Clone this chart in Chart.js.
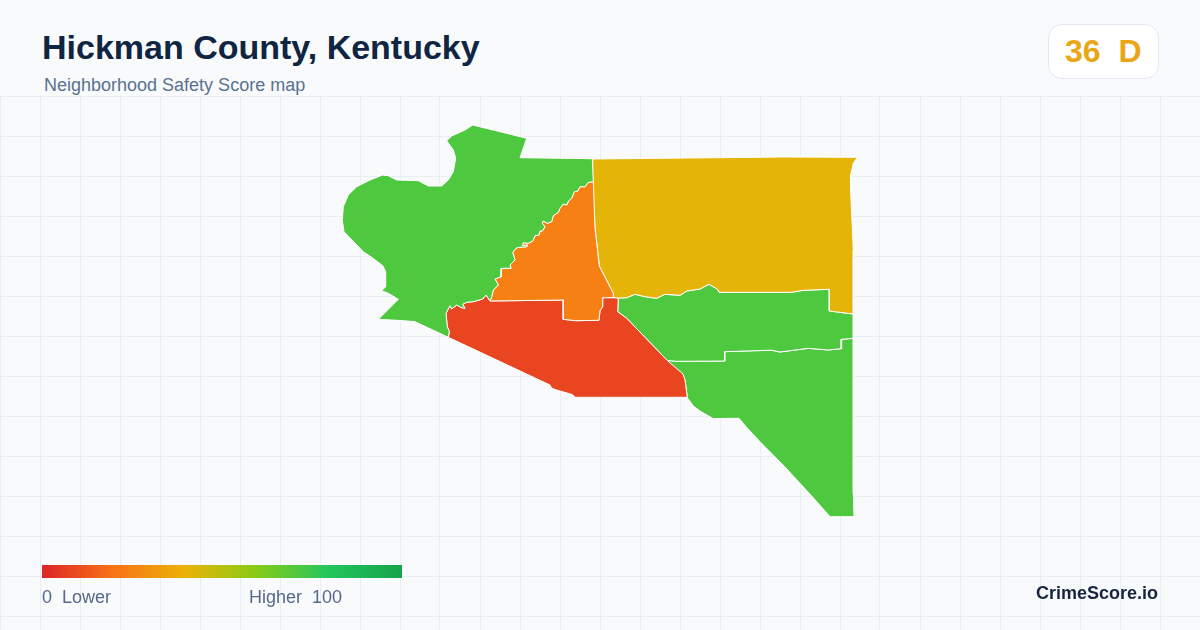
<!DOCTYPE html>
<html>
<head>
<meta charset="utf-8">
<title>Hickman County, Kentucky</title>
<script src="https://cdn.jsdelivr.net/npm/chart.js@4"></script>
<style>
  html, body { margin: 0; padding: 0; background: #f8fafc; }
  body { width: 1200px; height: 630px; position: relative; overflow: hidden; font-family: "Liberation Sans", Arial, sans-serif; }
  #map { position: absolute; left: 0; top: 96px; }
  .txt { position: absolute; white-space: pre; line-height: 1; }
  #title { left: 42px; top: 30px; font-size: 34px; font-weight: bold; color: #0f2542; }
  #subtitle { left: 44px; top: 76px; font-size: 18px; color: #5a7190; }
  #badge { position: absolute; left: 1048px; top: 24px; width: 109px; height: 53px; background: #fff; border: 1px solid #e2e8f0; border-radius: 14px; }
  #score { left: 1065px; top: 35px; font-size: 32px; font-weight: bold; color: #e9a715; }
  #bar { position: absolute; left: 42px; top: 565px; width: 360px; height: 13px; }
  #lower { left: 42px; top: 588px; font-size: 18px; color: #55698a; }
  #higher { left: 249px; top: 588px; font-size: 18px; color: #55698a; }
  #brand { left: 1036px; top: 584px; font-size: 18px; font-weight: bold; color: #16253f; }
</style>
</head>
<body>
<canvas id="map" width="1200" height="534"></canvas>
<div class="txt" id="title">Hickman County, Kentucky</div>
<div class="txt" id="subtitle">Neighborhood Safety Score map</div>
<div id="badge"></div>
<div class="txt" id="score">36  D</div>
<div id="bar"></div>
<div class="txt" id="lower">0  Lower</div>
<div class="txt" id="higher">Higher  100</div>
<div class="txt" id="brand">CrimeScore.io</div>

<script>
// Score colour ramp, also used for the legend bar
const RAMP_SCORES = [0, 20, 40, 60, 80, 100];
const RAMP_COLORS = ['#dc2626', '#f97316', '#eab308', '#84cc16', '#22c55e', '#16a34a'];

// Tract scores
const TRACT_NAMES = ['West', 'Central', 'South West', 'North East', 'East', 'South East'];
const TRACT_SCORES = [71, 24, 8, 41, 71, 71];

// Shared borders, map units
const BORDER_WEST_CENTRAL = [
  [593.3,181.7],[588.3,182.3],[585,186.7],[580,186.7],[577.7,191],[574.3,191.7],[571.7,198.3],[568.5,201],[566.7,205],[563.3,204],
  [560,208.3],[558.3,212.3],[553.3,215.7],[551.7,221.7],[547.3,223.3],[543.3,221],[542.3,223.3],[545,226.7],[542.3,231],[540,231],
  [539,235],[535,235.7],[532.7,241],[528.3,243.3],[523.3,242.7],[522.3,245.7],[527.7,245],[526.7,246.7],[516.7,247.7],[512.7,252.3],
  [515,260],[510,265],[511,268.3],[501.7,268.3],[501,276.7],[495,279],[498.3,285],[493.3,290],[491.7,296.7],[490,301]
];
const BORDER_WEST_SOUTH = [
  [490,301],[486,295],[482.7,299],[473.3,301.7],[466.7,302.3],[462.7,304.3],[465,308.3],[461.7,307.7],[456.7,305],[451.7,309],
  [450,305.7],[446,313.3],[447.3,326.7],[449.3,331.7],[448.3,337.3]
];
const BORDER_SOUTH_NECK = [
  [613.3,297.7],[602.7,297.7],[602.7,306.7],[600,310.7],[599,320.3],[575.7,320.7],[563.3,319.3],[563.3,300],[490,301]
];
const BORDER_NORTH_EAST = [
  [613.3,298.3],[626.7,297.7],[635,294.3],[645,296.7],[656.7,298.3],[665,294.3],[680,295.3],[686.7,291],[700,289],[709,284.3],
  [717.7,289.3],[719,292.3],[791.7,292.3],[803.3,290.3],[829.3,289.3],[829.3,311],[853.3,314]
];
const BORDER_EAST_SOUTH = [
  [853.3,338.3],[841.7,339.3],[841,348.7],[828.3,350],[808.3,348.3],[780,352],[771.7,350.2],[724.7,351.7],[724.7,361],[676.7,361.3],[667.3,360.5]
];
const BORDER_DIAGONAL = [
  [667.3,360.5],[626.7,318.3],[617.7,311.7],[618.3,298.3]
];

// Outer edges of each tract
const EDGE_WEST_NORTH = [
  [472.7,125],[526.7,138.3],[520,157.7],[592.3,158.7]
];
const EDGE_WEST_OUTER = [
  [415,321.7],[403.3,320.7],[378.3,319.3],[398.3,299.3],[388.3,293.3],[381.7,290.7],[385.7,286.7],[385.7,271.7],[382.7,265.7],[371.7,257.3],
  [363.3,251.7],[344,231.7],[342.3,220],[343.3,206.7],[348.3,195],[356.7,186.7],[370,180],[382.7,175],[388.3,175.7],[396.7,180],
  [418.3,180.7],[428.3,186],[441.7,186],[448.3,180],[453.3,171.7],[455.7,158.3],[453.3,150],[446.7,140.7],[451.7,136],[465,130]
];
const EDGE_CENTRAL_EAST = [
  [595,228],[599.3,266],[613.3,293.3],[613.3,297.7]
];
const EDGE_SOUTH_OUTER = [
  [667.3,360.5],[683,374],[685,380],[687.3,397.3],[575,397.3],[573,395],[568.3,393.3],[558,390.5],[551.7,388.3],[550,385]
];
const EDGE_NE_OUTER = [
  [592.7,159],[658.3,158.3],[783.3,157],[857.3,157.3],[853.3,163.3],[850.7,175],[850.7,193.3],[852.3,226.7],[853.3,250]
];
const EDGE_SE_OUTER = [
  [853.3,493.3],[854,516.7],[830,516.7],[811.7,496],[798.3,481.5],[785,467],[760,441.7],[746,426.7],[739,418.3],[728.3,418.3],[713.3,418.7],
  [700,411],[693.3,406],[687.3,397.7],[685,380],[681.7,375]
];

// Tract outlines, built from the pieces above
const TRACT_OUTLINES = [
  [...EDGE_WEST_NORTH, ...BORDER_WEST_CENTRAL, ...BORDER_WEST_SOUTH, ...EDGE_WEST_OUTER],
  [...BORDER_WEST_CENTRAL, ...BORDER_SOUTH_NECK.slice().reverse(), ...EDGE_CENTRAL_EAST.slice().reverse()],
  [...BORDER_WEST_SOUTH.slice().reverse(), ...BORDER_SOUTH_NECK.slice().reverse(), ...BORDER_DIAGONAL.slice().reverse(), ...EDGE_SOUTH_OUTER],
  [...EDGE_NE_OUTER, ...BORDER_NORTH_EAST.slice().reverse(), ...EDGE_CENTRAL_EAST.slice().reverse(), [592.7,181.7]],
  [...BORDER_NORTH_EAST, ...BORDER_EAST_SOUTH, ...BORDER_DIAGONAL],
  [...BORDER_EAST_SOUTH.slice().reverse(), ...EDGE_SE_OUTER]
];

// Map extent and graticule
const X_MIN = 0, X_MAX = 1200, Y_MIN = 96, Y_MAX = 630;
const GRID_STEP = 40;
const GRID_ROWS = [96, 136, 176, 216, 256, 296, 336, 376, 416, 456, 496, 536, 576, 616];

function hexToRgb(hex) {
  return [1, 3, 5].map(i => parseInt(hex.slice(i, i + 2), 16));
}

function scoreColor(score) {
  let i = 0;
  while (i < RAMP_SCORES.length - 2 && score > RAMP_SCORES[i + 1]) i++;
  const t = (score - RAMP_SCORES[i]) / (RAMP_SCORES[i + 1] - RAMP_SCORES[i]);
  const a = hexToRgb(RAMP_COLORS[i]), b = hexToRgb(RAMP_COLORS[i + 1]);
  const rgb = a.map((v, k) => Math.round(v + (b[k] - v) * t));
  return `rgb(${rgb.join(',')})`;
}

document.getElementById('bar').style.background =
  'linear-gradient(to right,' + RAMP_COLORS.map((c, i) => `${c} ${RAMP_SCORES[i]}%`).join(',') + ')';

const datasets = TRACT_OUTLINES.map((outline, i) => ({
  label: TRACT_NAMES[i],
  data: [...outline, outline[0]].map(([x, y]) => ({ x, y })),
  showLine: true,
  fill: 'shape',
  tension: 0,
  pointRadius: 0,
  borderColor: '#ffffff',
  borderWidth: 1,
  backgroundColor: scoreColor(TRACT_SCORES[i])
}));

const gridOptions = {
  display: true,
  color: '#e7eff3',
  lineWidth: 1,
  drawTicks: false
};

new Chart(document.getElementById('map'), {
  type: 'scatter',
  data: { datasets },
  options: {
    responsive: false,
    animation: false,
    layout: { padding: 0 },
    plugins: { legend: { display: false }, tooltip: { enabled: false } },
    scales: {
      x: {
        type: 'linear', min: X_MIN, max: X_MAX,
        grid: gridOptions, border: { display: false },
        ticks: { display: false, stepSize: GRID_STEP },
        afterFit(axis) { axis.height = 0; }
      },
      y: {
        type: 'linear', min: Y_MIN, max: Y_MAX, reverse: true,
        grid: gridOptions, border: { display: false },
        ticks: { display: false },
        afterBuildTicks(axis) { axis.ticks = GRID_ROWS.map(value => ({ value })); },
        afterFit(axis) { axis.width = 0; }
      }
    }
  }
});
</script>
</body>
</html>
